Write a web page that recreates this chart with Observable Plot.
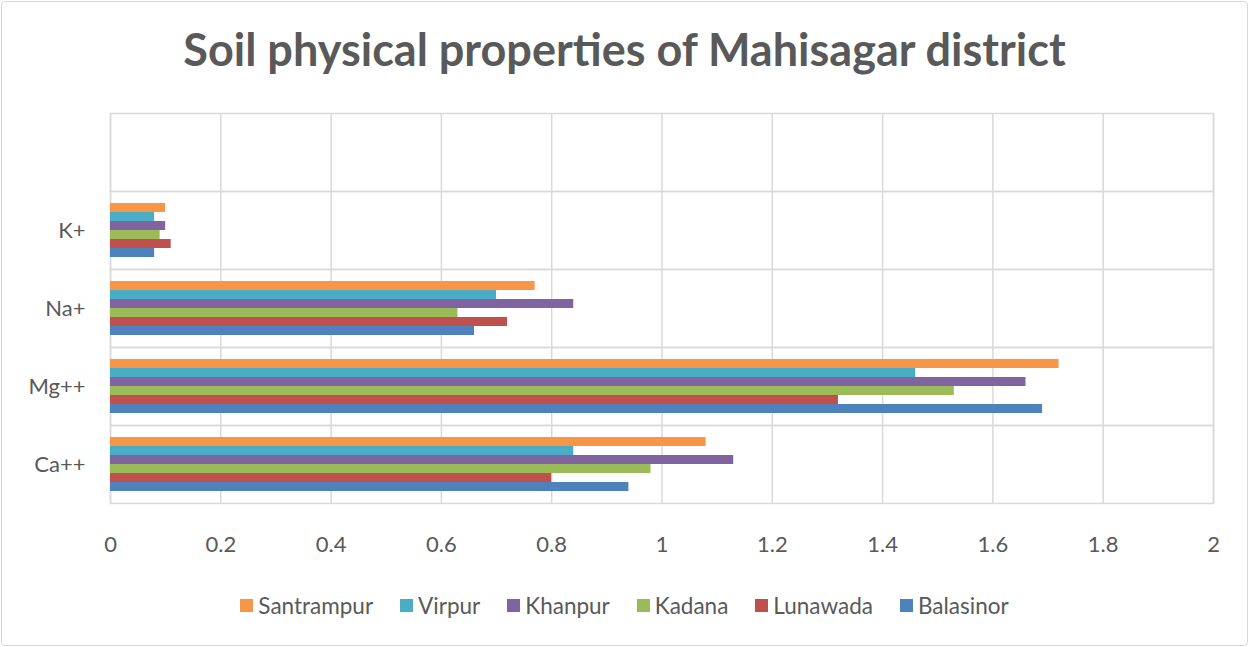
<!DOCTYPE html>
<html>
<head>
<meta charset="utf-8">
<script src="https://cdn.jsdelivr.net/npm/d3@7"></script>
<script src="https://cdn.jsdelivr.net/npm/@observablehq/plot@0.6"></script>
<style>
  html, body { margin: 0; padding: 0; background: #fff; }
  #chart { position: relative; width: 1249px; height: 647px; overflow: hidden; font-family: Lato, Roboto, sans-serif; color: #595959; }
  #border { position: absolute; left: 1px; top: 1px; width: 1245px; height: 643px; border: 1px solid #d9d9d9; border-radius: 4px; }
  #title { position: absolute; left: 0; top: 22px; width: 1249px; text-align: center; font-size: 45px; font-weight: bold; color: #595959; font-family: Lato, sans-serif; white-space: nowrap; }
  #plot { position: absolute; left: 0; top: 100px; }
  #legend { position: absolute; left: 0; top: 592px; width: 1249px; display: flex; justify-content: center; font-size: 22.5px; }
  .item { display: flex; align-items: center; margin: 0 13.5px; }
  .sw { width: 13px; height: 13px; margin-right: 5px; }
</style>
</head>
<body>
<div id="chart">
  <div id="border"></div>
  <div id="title">Soil physical properties of Mahisagar district</div>
  <div id="plot"></div>
  <div id="legend"></div>
</div>
<script>
// Categories, top to bottom (the top row is empty in the original chart)
const categories = [" ", "K+", "Na+", "Mg++", "Ca++"];
// Series, in legend order (also top-to-bottom order inside each group)
const series = ["Santrampur", "Virpur", "Khanpur", "Kadana", "Lunawada", "Balasinor"];
const colors = ["#f79646", "#4bacc6", "#8064a2", "#9bbb59", "#c0504d", "#4f81bd"];
// Values per category, in series order
const kValues  = [0.10, 0.08, 0.10, 0.09, 0.11, 0.08];
const naValues = [0.77, 0.70, 0.84, 0.63, 0.72, 0.66];
const mgValues = [1.72, 1.46, 1.66, 1.53, 1.32, 1.69];
const caValues = [1.08, 0.84, 1.13, 0.98, 0.80, 0.94];
const xTicks = [0, 0.2, 0.4, 0.6, 0.8, 1, 1.2, 1.4, 1.6, 1.8, 2];

const byCat = {"K+": kValues, "Na+": naValues, "Mg++": mgValues, "Ca++": caValues};
const rows = [];
for (const [cat, vals] of Object.entries(byCat)) {
  vals.forEach((v, i) => rows.push({cat, series: series[i], value: v}));
}

const plot = Plot.plot({
  width: 1249,
  height: 470,
  marginTop: 13,
  marginBottom: 67,
  marginLeft: 110,
  marginRight: 36,
  style: {fontFamily: 'Lato, Roboto, sans-serif', fontSize: "22px", color: "#595959", background: "transparent"},
  x: {domain: [0, 2], ticks: xTicks, tickFormat: d => String(d), label: null, tickSize: 0, tickPadding: 33},
  y: {domain: series, axis: null, paddingInner: 0, paddingOuter: 1.1},
  fy: {domain: categories, padding: 0, label: null, tickSize: 0, tickPadding: 25},
  color: {domain: series, range: colors},
  marks: [
    // invisible anchor so that the empty top category row is still laid out
    Plot.dot(categories, {fy: d => d, r: 0}),
    Plot.gridX(xTicks, {stroke: "#d9d9d9", strokeOpacity: 1, strokeWidth: 1.5}),
    Plot.frame({stroke: "#d9d9d9", strokeWidth: 1.5}),
    Plot.barX(rows, {x: "value", y: "series", fy: "cat", fill: "series", inset: 0})
  ]
});
document.getElementById("plot").appendChild(plot);

const legend = document.getElementById("legend");
series.forEach((s, i) => {
  const it = document.createElement("div");
  it.className = "item";
  const sw = document.createElement("span");
  sw.className = "sw";
  sw.style.background = colors[i];
  const t = document.createElement("span");
  t.textContent = s;
  it.appendChild(sw); it.appendChild(t);
  legend.appendChild(it);
});
</script>
</body>
</html>
